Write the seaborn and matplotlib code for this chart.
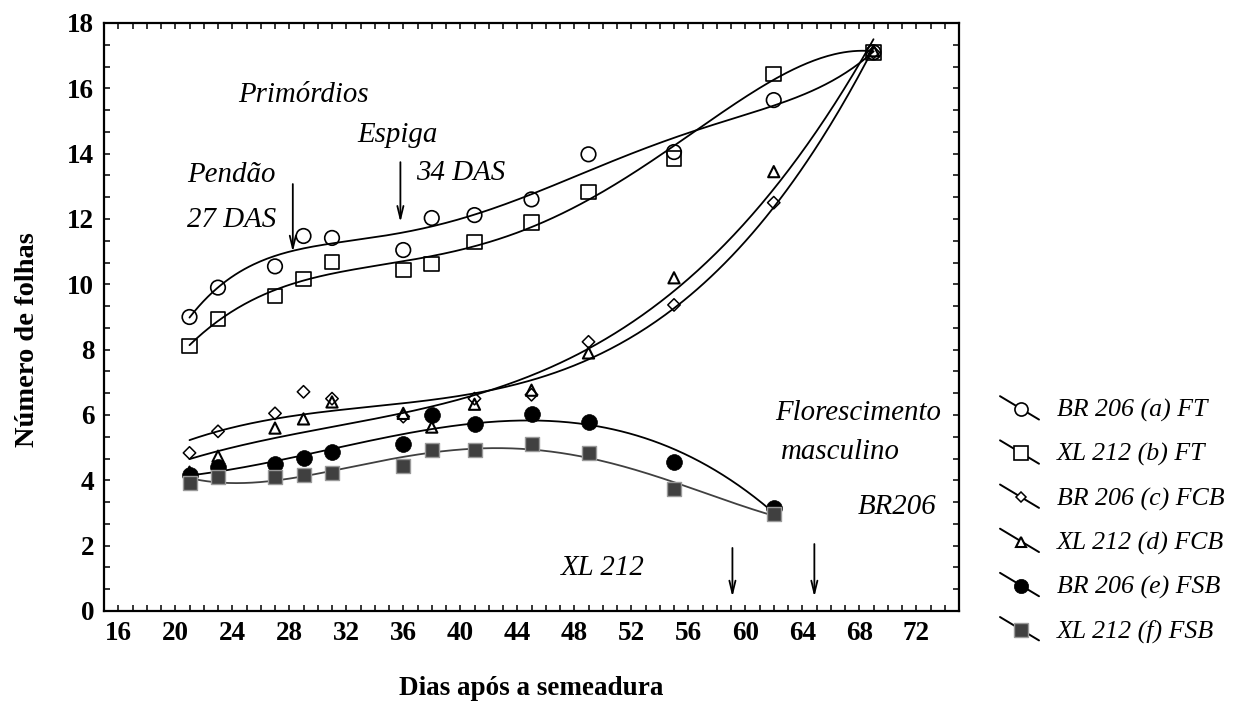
import numpy as np
import matplotlib
matplotlib.use("Agg")
import matplotlib.pyplot as plt
from matplotlib.lines import Line2D
from matplotlib.legend_handler import HandlerBase
from matplotlib.ticker import MultipleLocator
import seaborn as sns

# ---------------- data ----------------
days = [21, 23, 27, 29, 31, 36, 38, 41, 45, 49, 55, 62, 69]
days_fsb = [21, 23, 27, 29, 31, 36, 38, 41, 45, 49, 55, 62]

br206_ft = [9.0, 9.9, 10.55, 11.48, 11.42, 11.05, 12.03, 12.12, 12.6, 13.98, 14.05, 15.64, 17.1]
xl212_ft = [8.11, 8.94, 9.64, 10.16, 10.68, 10.44, 10.62, 11.29, 11.9, 12.82, 13.86, 16.44, 17.1]
br206_fcb = [4.84, 5.5, 6.05, 6.71, 6.5, 5.95, 6.0, 6.5, 6.62, 8.24, 9.37, 12.5, 17.1]
xl212_fcb = [4.25, 4.74, 5.6, 5.88, 6.4, 6.05, 5.63, 6.33, 6.76, 7.9, 10.2, 13.45, 17.15]
br206_fsb = [4.16, 4.4, 4.5, 4.68, 4.87, 5.1, 6.0, 5.72, 6.03, 5.78, 4.57, 3.15]
xl212_fsb = [3.92, 4.1, 4.1, 4.16, 4.22, 4.44, 4.93, 4.93, 5.1, 4.84, 3.73, 2.97]

labels = ["BR 206 (a) FT", "XL 212 (b) FT", "BR 206 (c) FCB",
          "XL 212 (d) FCB", "BR 206 (e) FSB", "XL 212 (f) FSB"]

# polynomial degree of the fitted trend curve for each series
fit_degree = [5, 5, 3, 3, 3, 4]

# ---------------- style ----------------
sns.set_style("ticks")
plt.rcParams["font.family"] = ["Liberation Serif", "DejaVu Serif"]
plt.rcParams["text.color"] = "black"
plt.rcParams["axes.labelcolor"] = "black"
plt.rcParams["xtick.color"] = "black"
plt.rcParams["ytick.color"] = "black"
plt.rcParams["axes.edgecolor"] = "black"
FS = 19.5
FS_ANN = 20.8
FS_LEG = 18.6

fig = plt.figure(figsize=(12.37, 7.04), dpi=100)
ax = fig.add_axes([104 / 1237, 1 - 611 / 704, (959 - 104) / 1237, (611 - 23) / 704])

marker_styles = [
    dict(marker="o", s=110, facecolor="none", edgecolor="black", linewidth=1.2),
    dict(marker="s", s=110, facecolor="none", edgecolor="black", linewidth=1.2),
    dict(marker="D", s=40, facecolor="none", edgecolor="black", linewidth=1.1),
    dict(marker="^", s=65, facecolor="none", edgecolor="black", linewidth=1.5),
    dict(marker="o", s=130, facecolor="black", edgecolor="black", linewidth=0.5),
    dict(marker="s", s=115, facecolor="#404040", edgecolor="#9a9a9a", linewidth=1.0),
]
line_colors = ["black", "black", "black", "black", "black", "#404040"]
series = [(days, br206_ft), (days, xl212_ft), (days, br206_fcb),
          (days, xl212_fcb), (days_fsb, br206_fsb), (days_fsb, xl212_fsb)]

handles = []
for (xs, ys), mk, lc, deg in zip(series, marker_styles, line_colors, fit_degree):
    xs = np.asarray(xs, float)
    ys = np.asarray(ys, float)
    coef = np.polyfit(xs, ys, deg)
    xg = np.linspace(xs.min(), xs.max(), 300)
    yg = np.polyval(coef, xg)
    sns.lineplot(x=xg, y=yg, color=lc, linewidth=1.3, ax=ax, legend=False)
    sns.scatterplot(x=xs, y=ys, ax=ax, legend=False, zorder=3, **mk)
    fc = mk["facecolor"] if mk["facecolor"] != "none" else "white"
    msize = np.sqrt(mk["s"])
    handles.append(Line2D([], [], color="black", linewidth=1.3, marker=mk["marker"],
                          markersize=msize * (0.9 if mk["marker"] != "D" else 0.85),
                          markerfacecolor=fc, markeredgecolor=mk["edgecolor"],
                          markeredgewidth=mk["linewidth"]))

ax.set_xlim(15, 75)
ax.set_ylim(0, 18)
ax.xaxis.set_major_locator(MultipleLocator(4))
ax.xaxis.set_minor_locator(MultipleLocator(1))
ax.yaxis.set_major_locator(MultipleLocator(2))
ax.yaxis.set_minor_locator(MultipleLocator(2 / 3))
ax.set_xticks(np.arange(16, 73, 4))
ax.tick_params(which="both", direction="in", top=True, right=True, length=4.5, width=1.1,
               color="black", labelcolor="black")
ax.tick_params(axis="both", which="major", labelsize=FS, pad=7)
for lbl in ax.get_xticklabels() + ax.get_yticklabels():
    lbl.set_fontweight("bold")
for sp in ax.spines.values():
    sp.set_linewidth(1.6)
    sp.set_color("black")

ax.set_xlabel("Dias após a semeadura", fontsize=FS, fontweight="bold", labelpad=22, color="black")
ax.set_ylabel("Número de folhas", fontsize=20.5, fontweight="bold", color="black")
ax.yaxis.set_label_coords(-0.075, 0.461)

# ---------------- annotations ----------------
txt = dict(fontsize=FS_ANN, fontstyle="italic", ha="left", va="center", color="black")
ax.text(24.4, 15.8, "Primórdios", **txt)
ax.text(32.8, 14.57, "Espiga", **txt)
ax.text(20.85, 13.35, "Pendão", **txt)
ax.text(20.85, 11.97, "27 DAS", **txt)
ax.text(36.9, 13.4, "34 DAS", **txt)
ax.text(62.1, 6.06, "Florescimento", **txt)
ax.text(62.5, 4.87, "masculino", **txt)
ax.text(67.9, 3.18, "BR206", **txt)
ax.text(47.1, 1.32, "XL 212", **txt)

arr = dict(arrowstyle="->,head_length=0.9,head_width=0.22", lw=1.3, color="black",
           shrinkA=0, shrinkB=0)
for x, y0, y1 in [(28.25, 13.07, 10.99), (35.8, 13.74, 11.9),
                  (59.1, 1.93, 0.43), (64.85, 2.05, 0.43)]:
    ax.annotate("", xy=(x, y1), xytext=(x, y0), arrowprops=arr)


# ---------------- legend ----------------
class SlantHandler(HandlerBase):
    def create_artists(self, legend, orig_handle, xdescent, ydescent,
                       width, height, fontsize, trans):
        x0 = -xdescent
        x1 = -xdescent + width
        yc = -ydescent + height / 2
        dy = 0.3 * width
        line = Line2D([x0, x1], [yc + dy, yc - dy], color="black", linewidth=1.4)
        mk = Line2D([x0 + 0.55 * width], [yc - 0.1 * dy], linestyle="none",
                    marker=orig_handle.get_marker(),
                    markersize=orig_handle.get_markersize(),
                    markerfacecolor=orig_handle.get_markerfacecolor(),
                    markeredgecolor=orig_handle.get_markeredgecolor(),
                    markeredgewidth=orig_handle.get_markeredgewidth())
        line.set_transform(trans)
        mk.set_transform(trans)
        return [line, mk]


leg = fig.legend(handles, labels, loc="center left",
                 bbox_to_anchor=(1000 / 1237, 1 - 521 / 704),
                 frameon=False, handler_map={Line2D: SlantHandler()},
                 handlelength=1.51, handletextpad=0.7, labelspacing=0.8,
                 borderpad=0, borderaxespad=0,
                 prop=dict(family="Liberation Serif", style="italic", size=FS_LEG))
for t in leg.get_texts():
    t.set_color("black")

fig.savefig("out.png", dpi=100)
